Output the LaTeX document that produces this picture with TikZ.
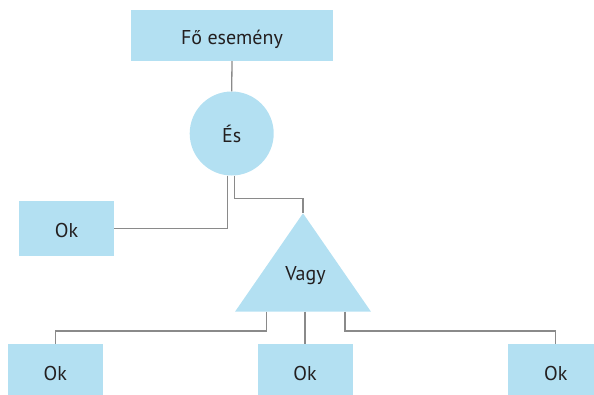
\documentclass[tikz,border=0pt]{standalone}
\usepackage{fontspec}
\setmainfont{PT Sans}
\definecolor{boxblue}{HTML}{B3E0F2}
\definecolor{linegray}{HTML}{8A8A8A}
\definecolor{txt}{HTML}{231F20}
\begin{document}
\begin{tikzpicture}[x=1pt,y=-1pt,
  lbl/.style={text=txt,font=\fontsize{20}{24}\selectfont,text height=18pt,text depth=0pt},
  box/.style={lbl,fill=boxblue,draw=none,minimum width=95pt,minimum height=55pt,inner sep=0pt},
  conn/.style={draw=linegray,line width=1.3pt}]
\useasboundingbox (0,0) rectangle (594,394);
% nodes
\node[box,minimum width=202pt,minimum height=51pt] (top) at (232,35.5) {Fő esemény};
\node[lbl,circle,fill=boxblue,minimum size=84pt,inner sep=0pt] (es) at (231.7,133.5) {És};
\node[box] (ok1) at (66.5,228.5) {Ok};
\coordinate (apex) at (303,213.3);
\coordinate (bl) at (235,311.7);
\coordinate (br) at (371,311.7);
\fill[boxblue] (apex) -- (bl) -- (br) -- cycle;
\node[lbl,inner sep=0pt] (vagy) at (305.5,271.5) {Vagy};
\node[box] (ok2) at (55.3,371.5) {Ok};
\node[box] (ok3) at (305,371.5) {Ok};
\node[box] (ok4) at (555.7,371.5) {Ok};
\coordinate (b1) at (266.7,311.7);
\coordinate (b2) at (305,311.7);
\coordinate (b3) at (345,311.7);
% connectors
\draw[conn] (top.south) -- (es.north);
\draw[conn] ([xshift=-4.4pt]es.south) |- (ok1.east);
\draw[conn] ([xshift=2.6pt]es.south) |- (270,198.7) -| (apex);
\draw[conn] (b1) |- (150,331) -| (ok2.north);
\draw[conn] (b2) -- (ok3.north);
\draw[conn] (b3) |- (450,331) -| (ok4.north);
\end{tikzpicture}
\end{document}
